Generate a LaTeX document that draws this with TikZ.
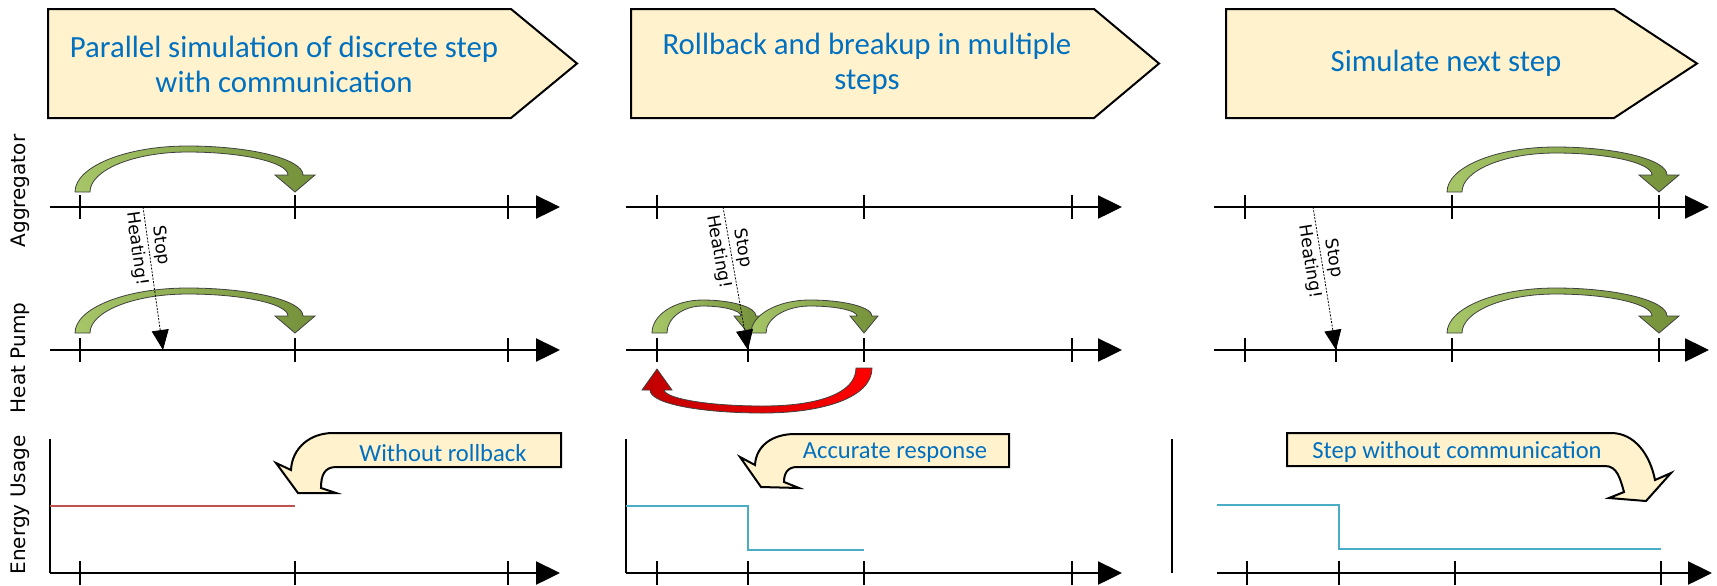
\documentclass[tikz,border=0pt]{standalone}
\usepackage{fontspec}
\setmainfont{Carlito}
\newfontfamily\labelfont{DejaVu Sans}
\usetikzlibrary{arrows.meta,calc}
\definecolor{boxfill}{RGB}{255,242,204}
\definecolor{boxtext}{RGB}{0,112,192}
\definecolor{hoplight}{RGB}{166,198,104}
\definecolor{hopdark}{RGB}{116,144,58}
\definecolor{backdark}{RGB}{192,0,0}
\definecolor{useold}{RGB}{192,80,77}
\definecolor{usenew}{RGB}{75,172,198}

% time axis at height #1 from #2 to #3, ticks at #4
\newcommand{\timeline}[4]{%
  \draw[timeaxis] (#2,#1) -- (#3,#1);
  \foreach \t in {#4} \draw[tickmark] (\t,{#1-12}) -- (\t,{#1+12});}

% curved step arrow from #1 to #2, tip at #3, top at #4, head half width #5
\newcommand{\hop}[5]{%
  \pgfmathsetmacro{\hopmid}{(#1+#2)/2}%
  \pgfmathsetmacro{\hopbase}{#3-17}%
  \path[hop] ({#1-5},#3)
    .. controls ({#1-5},{#3-0.55*(#3-#4)}) and ({\hopmid-0.55*(\hopmid-#1+5)},#4) .. (\hopmid,#4)
    .. controls ({\hopmid+0.55*(#2+8-\hopmid)},#4) and ({#2+8},{\hopbase-0.55*(\hopbase-#4)}) .. ({#2+8},\hopbase)
    -- ({#2+#5},\hopbase) -- (#2,#3) -- ({#2-#5},\hopbase) -- ({#2-7},\hopbase)
    .. controls ({#2-7},{\hopbase-0.55*(\hopbase-#4-6)}) and ({\hopmid+0.55*(#2-7-\hopmid)},{#4+6}) .. (\hopmid,{#4+6})
    .. controls ({\hopmid-0.55*(\hopmid-#1-10)},{#4+6}) and ({#1+10},{#3-0.55*(#3-#4-6)}) .. ({#1+10},#3)
    -- cycle;}

\begin{document}
\begin{tikzpicture}[x=0.5pt,y=-0.5pt,
  chevron/.style={draw=black, line width=1pt, fill=boxfill},
  headtxt/.style={text=boxtext, align=center, font=\fontsize{15.4}{17.5}\selectfont},
  calltxt/.style={text=boxtext, font=\fontsize{12.3}{14}\selectfont},
  lab/.style={rotate=90, font=\labelfont\fontsize{10}{12}\selectfont},
  timeaxis/.style={line width=1.2pt, -{Triangle[length=12pt,width=11.5pt]}},
  tickmark/.style={line width=1.2pt},
  hop/.style={draw=black!75, line width=0.4pt, left color=hoplight, right color=hopdark},
  rollback/.style={draw=black!75, line width=0.4pt, left color=backdark, right color=red},
  cmd/.style={line width=0.4pt, dash pattern=on 1pt off 0.7pt, -{Triangle[length=10pt,width=8.5pt]}},
  cmdtxt/.style={sloped, align=center, inner sep=0pt, font=\labelfont\fontsize{8.6}{12}\selectfont},
  usage/.style={line width=1pt}
]
\useasboundingbox (0,0) rectangle (1717,585);

% step banners
\draw[chevron] (48,9) -- (511,9) -- (577,63.5) -- (511,118) -- (48,118) -- cycle;
\draw[chevron] (631,9) -- (1094,9) -- (1159,63.5) -- (1094,118) -- (631,118) -- cycle;
\draw[chevron] (1226,9) -- (1614,9) -- (1697,63.5) -- (1614,118) -- (1226,118) -- cycle;
\node[headtxt] (h1) at (284,64) {Parallel simulation of discrete step\\with communication};
\node[headtxt] (h2) at (867,64) {Rollback and breakup in multiple\\steps};
\node[headtxt] (h3) at (1446,63) {Simulate next step};

% rows
\node[lab] (agg) at (20,191) {Aggregator};
\node[lab] (hp) at (20,358) {Heat Pump};
\node[lab] (eu) at (20,505) {Energy Usage};

\timeline{207}{50}{560}{80,295,508}
\timeline{350}{50}{560}{80,295,508}
\timeline{573}{50}{560}{80,295,508}
\timeline{207}{626}{1122}{657,864,1072}
\timeline{350}{626}{1122}{657,748,864,1072}
\timeline{573}{626}{1122}{657,748,864,1072}
\timeline{207}{1214}{1709}{1245,1452,1659}
\timeline{350}{1214}{1709}{1245,1336,1452,1659}
\timeline{573}{1217}{1712}{1247,1339,1455,1661}
\draw[tickmark] (50,439) -- (50,573);
\draw[tickmark] (626,439) -- (626,573);
\draw[tickmark] (1172,439) -- (1172,573);

% simulated steps
\hop{80}{295}{192}{146}{20}
\hop{80}{295}{333}{288}{20}
\hop{657}{748}{333}{300}{14}
\hop{756}{864}{333}{300}{14}
\hop{1452}{1659}{192}{147}{20}
\hop{1452}{1659}{333}{288}{20}
\path[rollback] (872,368) .. controls (872,398) and (822,413) .. (763,413)
  .. controls (702,413) and (650,404) .. (650,390) -- (642,390) -- (657,369) -- (672,390) -- (664,390)
  .. controls (666,399) and (710,406) .. (763,406) .. controls (816,406) and (856,394) .. (856,368) -- cycle;

% stop heating messages
\coordinate (sa1) at (143,207); \coordinate (sb1) at (163,350);
\coordinate (sa2) at (723,207); \coordinate (sb2) at (748,350);
\coordinate (sa3) at (1313,207); \coordinate (sb3) at (1336,350);
\draw[cmd] (sa1) -- node[cmdtxt, pos=0.28] (st1) {Stop\\Heating!} (sb1);
\draw[cmd] (sa2) -- node[cmdtxt, pos=0.30] (st2) {Stop\\Heating!} (sb2);
\draw[cmd] (sa3) -- node[cmdtxt, pos=0.37] (st3) {Stop\\Heating!} (sb3);

% energy usage
\draw[usage, draw=useold] (50,506) -- (295,506);
\draw[usage, draw=usenew] (626,506) -- (748,506) -- (748,550) -- (864,550);
\draw[usage, draw=usenew] (1217,505) -- (1339,505) -- (1339,549) -- (1661,549);

\draw[chevron] (561,433) -- (333,433) .. controls (310,433) and (292,448) .. (291,470)
  -- (276,463) -- (298,493) -- (336,493) -- (321,488) .. controls (321,476) and (324,467) .. (336,467) -- (561,467) -- cycle;
\draw[chevron] (1009,434) -- (795,434) .. controls (772,434) and (756,446) .. (755,465)
  -- (740,457) -- (761,487) -- (799,488) -- (784,482) .. controls (784,474) and (787,467) .. (797,467) -- (1009,467) -- cycle;
\draw[chevron] (1287,433) -- (1611,433) .. controls (1635,433) and (1650,455) .. (1655,480)
  -- (1671,473) -- (1646,501) -- (1609,498) -- (1624,492) .. controls (1620,478) and (1617,466) .. (1605,466) -- (1287,466) -- cycle;
\node[calltxt] (c1) at (443,453) {Without rollback};
\node[calltxt] (c2) at (895,453) {Accurate response};
\node[calltxt] (c3) at (1457,452) {Step without communication};
\end{tikzpicture}
\end{document}
